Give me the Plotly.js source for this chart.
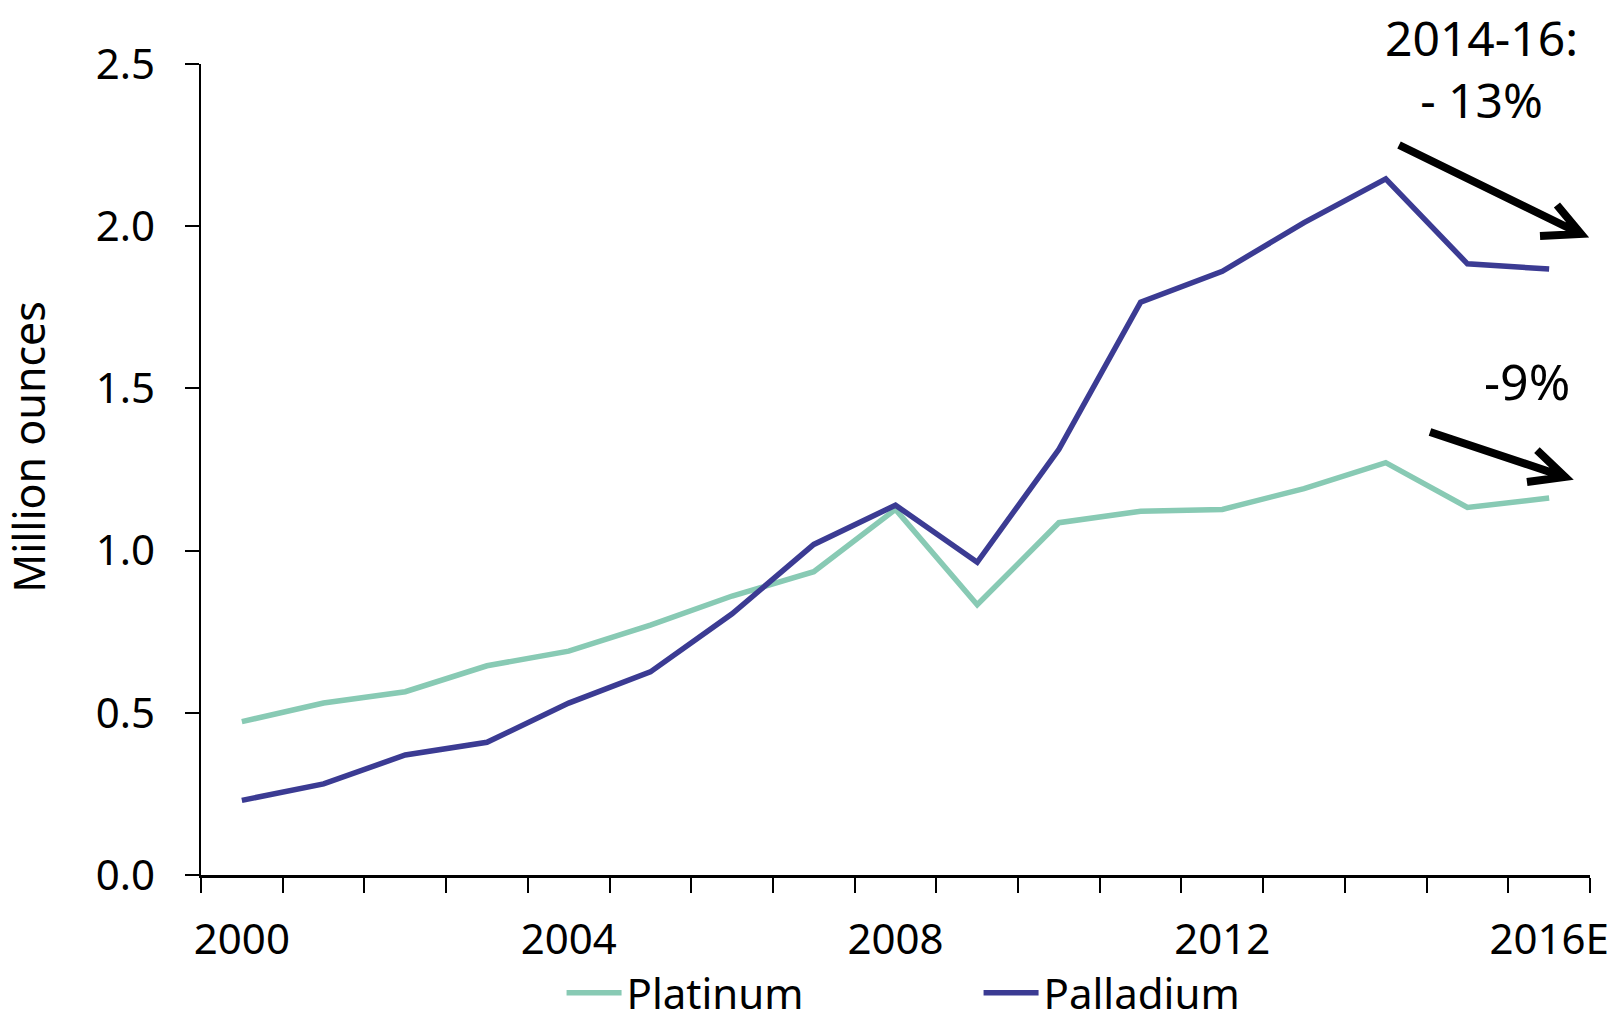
<!DOCTYPE html>
<html>
<head>
<meta charset="utf-8">
<script src="https://cdn.plot.ly/plotly-3.0.1.min.js"></script>
<style>html,body{margin:0;padding:0;background:#fff;}#chart{width:1623px;height:1027px;}</style>
</head>
<body>
<div id="chart"></div>
<script>
const years = ["2000","2001","2002","2003","2004","2005","2006","2007","2008","2009","2010","2011","2012","2013","2014","2015","2016E"];
const tickLabels = ["2000","","","","2004","","","","2008","","","","2012","","","","2016E"];
const platinum = [0.473,0.53,0.565,0.645,0.69,0.77,0.86,0.935,1.127,0.833,1.086,1.121,1.127,1.191,1.271,1.133,1.162];
const palladium = [0.23,0.281,0.37,0.409,0.53,0.626,0.805,1.019,1.14,0.964,1.312,1.766,1.861,2.011,2.146,1.884,1.868];
const yTicks = [0,0.5,1.0,1.5,2.0,2.5];

const FONT = "Noto Sans, Open Sans, sans-serif";

const traces = [
  {x: years, y: platinum, name: "Platinum", type: "scatter", mode: "lines",
   line: {color: "#88CAB4", width: 5.5}},
  {x: years, y: palladium, name: "Palladium", type: "scatter", mode: "lines",
   line: {color: "#3B3B93", width: 5.5}}
];

// arrows in paper coordinates (decorations)
function arrow(x0, y0, x1, y1, ax1, ay1, ax2, ay2) {
  return {type: "path", xref: "paper", yref: "paper",
    path: `M${x0},${y0} L${x1},${y1} M${ax1},${ay1} L${x1},${y1} L${ax2},${ay2}`,
    line: {color: "#000", width: 8}};
}

const layout = {
  width: 1623, height: 1027,
  paper_bgcolor: "#fff", plot_bgcolor: "#fff",
  margin: {l: 201, r: 33, t: 64, b: 152, autoexpand: false},
  font: {family: FONT, size: 42, color: "#000"},
  showlegend: true,
  legend: {orientation: "h", x: 0.5598, xanchor: "center", y: -0.1874, yanchor: "bottom",
    font: {family: FONT, size: 42, color: "#000"}, entrywidth: 347, entrywidthmode: "pixels",
    itemwidth: 55, bgcolor: "rgba(0,0,0,0)"},
  xaxis: {type: "category", tickmode: "array", tickvals: years, ticktext: tickLabels,
    tickson: "boundaries", ticks: "outside", ticklen: 15, tickwidth: 2, tickcolor: "#000",
    showline: true, linecolor: "#000", linewidth: 3, showgrid: false, zeroline: false,
    range: [-0.5, 16.5], tickangle: 0, ticklabelstandoff: 26, automargin: false,
    tickfont: {family: FONT, size: 42, color: "#000"}},
  yaxis: {range: [0, 2.5], tickmode: "array", tickvals: yTicks, tickformat: ".1f",
    ticks: "outside", ticklen: 14, tickwidth: 2, tickcolor: "#000",
    showline: true, linecolor: "#000", linewidth: 2.5, showgrid: false, zeroline: false,
    ticklabelstandoff: 21, automargin: false,
    tickfont: {family: FONT, size: 42, color: "#000"}},
  annotations: [
    {xref: "paper", yref: "paper", x: -0.1238, y: 0.528, xanchor: "center", yanchor: "middle",
     textangle: -90, text: "Million ounces", showarrow: false, font: {family: FONT, size: 43, color: "#000"}},
    {xref: "paper", yref: "paper", x: 0.9222, y: (875 - 68.5) / 811, xanchor: "center", yanchor: "middle",
     text: "2014-16:<br>- 13%", showarrow: false, font: {family: FONT, size: 48, color: "#000"}},
    {xref: "paper", yref: "paper", x: 0.9546, y: 0.609, xanchor: "center", yanchor: "middle",
     text: "-9%", showarrow: false, font: {family: FONT, size: 50, color: "#000"}}
  ],
  shapes: [
    arrow(0.8625, 0.9001, 0.9935, 0.7904, 0.9762, 0.8261, 0.9640, 0.7879),
    arrow(0.8848, 0.5462, 0.9820, 0.4908, 0.9618, 0.5240, 0.9546, 0.4846)
  ]
};

Plotly.newPlot("chart", traces, layout, {displayModeBar: false, staticPlot: true});
</script>
</body>
</html>
